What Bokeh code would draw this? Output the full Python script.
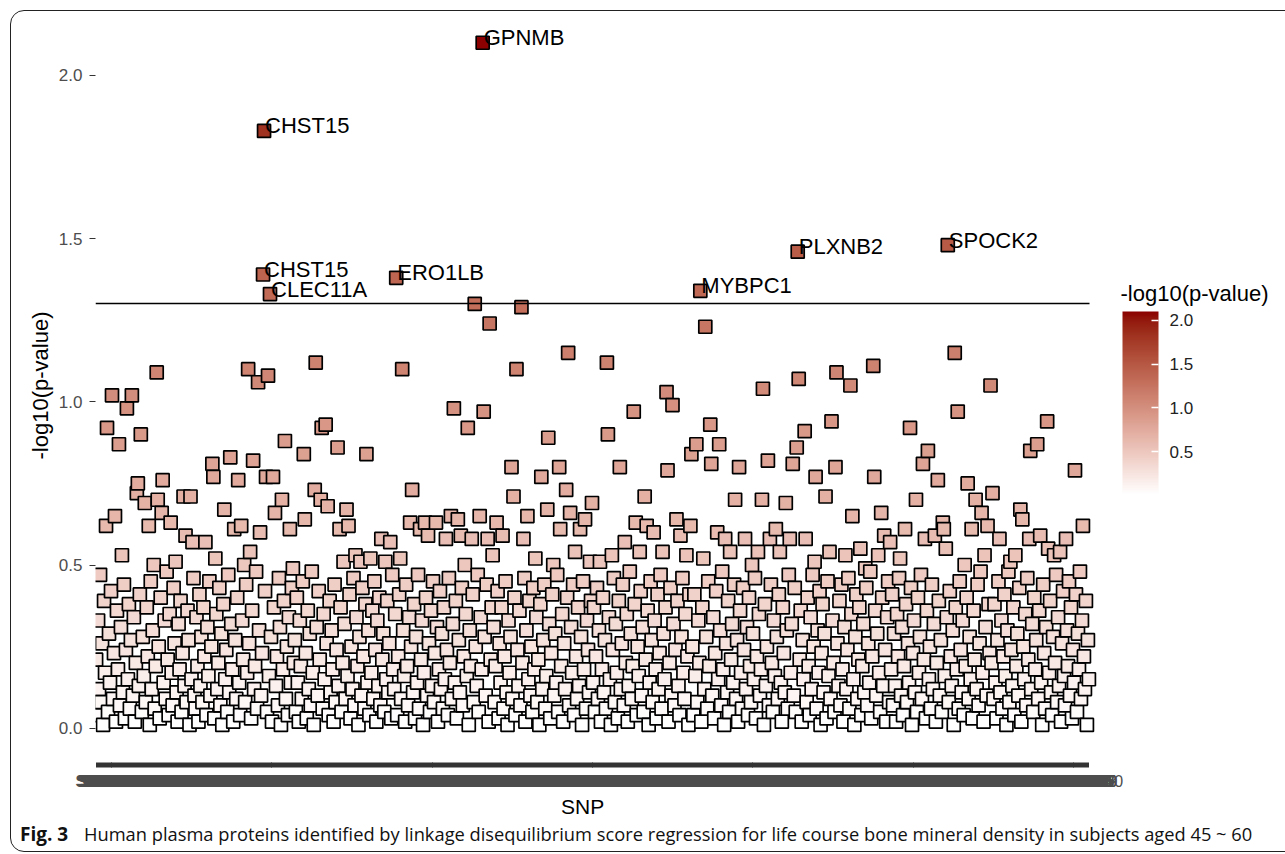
import math
from bokeh.plotting import figure
from bokeh.layouts import column
from bokeh.models import (ColumnDataSource, Range1d, LinearColorMapper, ColorBar, Div, Title,
                          FixedTicker, PrintfTickFormatter, Label)
from bokeh.transform import transform
from bokeh.core.properties import value
from bokeh.embed import file_html
from bokeh.resources import INLINE

# -log10(p-value) per SNP, read left to right (10 blocks of 100 SNPs)
seg_01 = [0.21, 0.04, 0.33, 0.12, 0.47, 0.08, 0.26, 0.01, 0.39, 0.17, 0.62, 0.92, 0.05, 0.29, 0.14, 0.42, 1.02, 0.09, 0.23, 0.65,
          0.02, 0.36, 0.18, 0.87, 0.07, 0.31, 0.53, 0.11, 0.44, 0.03, 0.24, 0.98, 0.15, 0.38, 0.06, 0.27, 1.02, 0.10, 0.34, 0.02,
          0.20, 0.72, 0.75, 0.13, 0.41, 0.90, 0.05, 0.28, 0.16, 0.69, 0.08, 0.37, 0.22, 0.62, 0.01, 0.45, 0.12, 0.30, 0.50, 0.06,
          0.19, 1.09, 0.70, 0.25, 0.03, 0.40, 0.66, 0.76, 0.14, 0.33, 0.09, 0.48, 0.21, 0.04, 0.35, 0.63, 0.17, 0.07, 0.43, 0.26,
          0.51, 0.11, 0.02, 0.32, 0.18, 0.39, 0.05, 0.23, 0.71, 0.13, 0.59, 0.08, 0.36, 0.27, 0.01, 0.71, 0.15, 0.57, 0.46, 0.10]
seg_02 = [0.06, 0.34, 0.19, 0.02, 0.41, 0.13, 0.28, 0.08, 0.37, 0.22, 0.57, 0.04, 0.31, 0.16, 0.45, 0.10, 0.25, 0.81, 0.77, 0.03,
          0.52, 0.35, 0.12, 0.20, 0.43, 0.07, 0.29, 0.01, 0.38, 0.67, 0.15, 0.24, 0.05, 0.47, 0.11, 0.83, 0.32, 0.18, 0.02, 0.61,
          0.27, 0.09, 0.40, 0.76, 0.14, 0.04, 0.62, 0.33, 0.21, 0.50, 0.08, 0.44, 0.17, 1.10, 0.26, 0.54, 0.03, 0.36, 0.82, 0.12,
          0.19, 0.48, 0.06, 1.06, 0.30, 0.60, 0.10, 0.23, 1.39, 1.83, 0.42, 0.77, 0.05, 1.08, 0.16, 1.33, 0.28, 0.02, 0.77, 0.37,
          0.66, 0.13, 0.22, 0.07, 0.46, 0.31, 0.01, 0.70, 0.18, 0.39, 0.88, 0.09, 0.25, 0.04, 0.34, 0.61, 0.14, 0.43, 0.49, 0.20]
seg_03 = [0.27, 0.05, 0.40, 0.14, 0.02, 0.33, 0.19, 0.09, 0.45, 0.84, 0.64, 0.23, 0.03, 0.36, 0.12, 0.29, 0.07, 0.48, 0.17, 0.01,
          0.73, 1.12, 0.31, 0.10, 0.42, 0.21, 0.70, 0.92, 0.06, 0.35, 0.15, 0.93, 0.26, 0.68, 0.04, 0.39, 0.11, 0.30, 0.18, 0.02,
          0.44, 0.08, 0.24, 0.86, 0.13, 0.61, 0.37, 0.05, 0.20, 0.51, 0.32, 0.09, 0.67, 0.16, 0.62, 0.41, 0.03, 0.25, 0.12, 0.46,
          0.07, 0.53, 0.34, 0.19, 0.01, 0.28, 0.51, 0.10, 0.43, 0.22, 0.06, 0.38, 0.84, 0.14, 0.30, 0.04, 0.52, 0.17, 0.36, 0.09,
          0.45, 0.24, 0.02, 0.33, 0.13, 0.40, 0.07, 0.58, 0.21, 0.29, 0.05, 0.51, 0.15, 0.39, 0.11, 0.26, 0.57, 0.03, 0.47, 0.18]
seg_04 = [0.12, 0.35, 1.38, 0.04, 0.22, 0.41, 0.52, 0.09, 1.10, 0.30, 0.16, 0.02, 0.44, 0.19, 0.07, 0.34, 0.63, 0.25, 0.73, 0.11,
          0.38, 0.03, 0.28, 0.14, 0.47, 0.06, 0.61, 0.21, 0.33, 0.01, 0.17, 0.63, 0.40, 0.10, 0.59, 0.26, 0.05, 0.36, 0.13, 0.45,
          0.08, 0.23, 0.63, 0.31, 0.02, 0.18, 0.42, 0.12, 0.29, 0.06, 0.37, 0.15, 0.58, 0.24, 0.04, 0.46, 0.20, 0.65, 0.09, 0.32,
          0.98, 0.14, 0.39, 0.03, 0.64, 0.27, 0.11, 0.59, 0.43, 0.07, 0.22, 0.50, 0.35, 0.16, 0.92, 0.01, 0.30, 0.19, 0.58, 0.41,
          0.08, 1.30, 0.25, 0.13, 0.47, 0.05, 0.65, 0.34, 0.18, 2.10, 0.97, 0.28, 0.10, 0.44, 0.58, 0.02, 1.24, 0.21, 0.37, 0.53]
seg_05 = [0.31, 0.08, 0.19, 0.63, 0.42, 0.03, 0.26, 0.14, 0.37, 0.59, 0.06, 0.22, 0.45, 0.11, 0.01, 0.33, 0.17, 0.28, 0.80, 0.09,
          0.71, 0.40, 0.04, 1.10, 0.24, 0.13, 0.36, 0.07, 1.29, 0.20, 0.58, 0.46, 0.02, 0.30, 0.65, 0.15, 0.39, 0.10, 0.25, 0.05,
          0.43, 0.18, 0.52, 0.34, 0.08, 0.21, 0.01, 0.38, 0.77, 0.12, 0.27, 0.44, 0.06, 0.16, 0.67, 0.89, 0.32, 0.03, 0.23, 0.41,
          0.50, 0.10, 0.29, 0.14, 0.47, 0.05, 0.80, 0.61, 0.19, 0.35, 0.02, 0.26, 0.12, 0.73, 0.40, 1.15, 0.07, 0.66, 0.31, 0.17,
          0.44, 0.04, 0.54, 0.22, 0.09, 0.37, 0.13, 0.61, 0.28, 0.01, 0.45, 0.18, 0.64, 0.06, 0.33, 0.24, 0.11, 0.51, 0.39, 0.69]
seg_06 = [0.14, 0.37, 0.05, 0.22, 0.43, 0.09, 0.30, 0.51, 0.02, 0.18, 0.40, 0.11, 0.27, 0.06, 1.12, 0.90, 0.34, 0.15, 0.01, 0.53,
          0.24, 0.46, 0.08, 0.32, 0.17, 0.03, 0.39, 0.80, 0.12, 0.26, 0.44, 0.07, 0.57, 0.20, 0.35, 0.02, 0.13, 0.48, 0.29, 0.09,
          0.19, 0.97, 0.38, 0.63, 0.04, 0.25, 0.16, 0.54, 0.42, 0.10, 0.31, 0.05, 0.71, 0.21, 0.62, 0.36, 0.01, 0.14, 0.45, 0.27,
          0.08, 0.60, 0.33, 0.18, 0.03, 0.41, 0.12, 0.23, 0.47, 0.06, 0.54, 0.29, 0.15, 0.37, 1.03, 0.79, 0.02, 0.20, 0.43, 0.10,
          0.99, 0.32, 0.07, 0.24, 0.64, 0.39, 0.13, 0.04, 0.59, 0.28, 0.46, 0.17, 0.09, 0.35, 0.53, 0.22, 0.01, 0.41, 0.62, 0.84]
seg_07 = [0.25, 0.04, 0.41, 0.16, 0.87, 0.08, 0.33, 0.20, 1.34, 0.02, 0.37, 0.52, 0.12, 1.23, 0.28, 0.06, 0.45, 0.19, 0.93, 0.81,
          0.10, 0.34, 0.03, 0.23, 0.42, 0.60, 0.15, 0.87, 0.30, 0.07, 0.48, 0.18, 0.01, 0.58, 0.26, 0.11, 0.39, 0.05, 0.54, 0.21,
          0.32, 0.14, 0.44, 0.70, 0.09, 0.27, 0.02, 0.80, 0.36, 0.17, 0.06, 0.43, 0.24, 0.58, 0.12, 0.31, 0.04, 0.40, 0.19, 0.08,
          0.50, 0.29, 0.15, 0.46, 0.03, 0.22, 0.54, 0.35, 0.10, 0.18, 0.70, 1.04, 0.01, 0.38, 0.13, 0.25, 0.82, 0.07, 0.58, 0.44,
          0.20, 0.05, 0.33, 0.16, 0.61, 0.28, 0.09, 0.41, 0.54, 0.14, 0.02, 0.37, 0.23, 0.11, 0.69, 0.30, 0.06, 0.47, 0.58, 0.17]
seg_08 = [0.32, 0.81, 0.10, 0.43, 0.05, 0.86, 1.46, 1.07, 0.21, 0.36, 0.02, 0.27, 0.15, 0.91, 0.58, 0.08, 0.40, 0.19, 0.04, 0.34,
          0.12, 0.47, 0.25, 0.51, 0.77, 0.06, 0.30, 0.17, 0.42, 0.01, 0.23, 0.38, 0.11, 0.29, 0.71, 0.03, 0.45, 0.16, 0.54, 0.09,
          0.94, 0.33, 0.20, 0.05, 0.80, 1.09, 0.26, 0.13, 0.39, 0.07, 0.44, 0.18, 0.02, 0.31, 0.53, 0.12, 0.24, 0.46, 0.06, 1.05,
          0.35, 0.65, 0.15, 0.01, 0.28, 0.41, 0.09, 0.21, 0.37, 0.55, 0.04, 0.19, 0.32, 0.11, 0.49, 0.43, 0.07, 0.26, 0.14, 0.48,
          0.03, 0.22, 1.11, 0.77, 0.36, 0.10, 0.29, 0.53, 0.17, 0.05, 0.66, 0.40, 0.13, 0.59, 0.24, 0.02, 0.34, 0.45, 0.08, 0.57]
seg_09 = [0.18, 0.41, 0.07, 0.29, 0.13, 0.02, 0.35, 0.22, 0.46, 0.52, 0.10, 0.31, 0.04, 0.19, 0.61, 0.38, 0.08, 0.26, 0.14, 0.92,
          0.43, 0.01, 0.23, 0.33, 0.11, 0.70, 0.05, 0.40, 0.17, 0.28, 0.47, 0.09, 0.81, 0.21, 0.58, 0.03, 0.36, 0.85, 0.15, 0.25,
          0.06, 0.44, 0.12, 0.32, 0.59, 0.02, 0.20, 0.76, 0.39, 0.10, 0.27, 0.05, 0.63, 0.61, 0.16, 0.55, 0.34, 1.48, 0.08, 0.42,
          0.22, 0.13, 0.30, 0.01, 1.15, 0.37, 0.18, 0.97, 0.06, 0.45, 0.24, 0.11, 0.33, 0.04, 0.50, 0.19, 0.40, 0.75, 0.09, 0.28,
          0.15, 0.61, 0.03, 0.36, 0.21, 0.70, 0.12, 0.44, 0.07, 0.26, 0.48, 0.66, 0.17, 0.02, 0.53, 0.31, 0.10, 0.62, 0.38, 0.23]
seg_10 = [1.05, 0.20, 0.72, 0.09, 0.38, 0.14, 0.03, 0.27, 0.45, 0.58, 0.11, 0.33, 0.06, 0.22, 0.41, 0.16, 0.01, 0.30, 0.48, 0.08,
          0.51, 0.24, 0.13, 0.37, 0.04, 0.53, 0.19, 0.29, 0.10, 0.43, 0.67, 0.02, 0.64, 0.25, 0.15, 0.35, 0.07, 0.46, 0.21, 0.58,
          0.85, 0.12, 0.32, 0.05, 0.40, 0.18, 0.27, 0.87, 0.09, 0.36, 0.59, 0.14, 0.01, 0.44, 0.23, 0.06, 0.31, 0.94, 0.55, 0.17,
          0.39, 0.11, 0.04, 0.28, 0.53, 0.20, 0.47, 0.08, 0.34, 0.13, 0.54, 0.02, 0.26, 0.42, 0.16, 0.07, 0.58, 0.30, 0.19, 0.45,
          0.10, 0.37, 0.03, 0.24, 0.14, 0.79, 0.41, 0.05, 0.29, 0.18, 0.48, 0.09, 0.33, 0.62, 0.22, 0.12, 0.39, 0.01, 0.27, 0.15]

neg_log10_p = seg_01 + seg_02 + seg_03 + seg_04 + seg_05 + seg_06 + seg_07 + seg_08 + seg_09 + seg_10
N = len(neg_log10_p)
snp_pos = list(range(1, N + 1))
snp_ids = [f"SNP{i}" for i in snp_pos]          # x tick labels (one per SNP, overlapping as in the original)
hit_genes = ["CHST15", "CHST15", "CLEC11A", "ERO1LB", "GPNMB", "MYBPC1", "PLXNB2", "SPOCK2"]
y_ticks = [0.0, 0.5, 1.0, 1.5, 2.0]
bar_ticks = [0.5, 1.0, 1.5, 2.0]
sig_level = -math.log10(0.05)
x_title = "SNP"
y_title = "-log10(p-value)"
legend_title = "-log10(p-value)"
caption_bold = "Fig. 3"
caption_text = ("Human plasma proteins identified by linkage disequilibrium score regression "
                "for life course bone mineral density in subjects aged 45 ~ 60")

# white -> darkred gradient interpolated in CIE Lab (as ggplot does)
def _hex_to_lab(h):
    rgb = [int(h[i:i + 2], 16) / 255 for i in (1, 3, 5)]
    r, g, b = [c / 12.92 if c <= 0.04045 else ((c + 0.055) / 1.055) ** 2.4 for c in rgb]
    X = (0.4124564 * r + 0.3575761 * g + 0.1804375 * b) / 0.95047
    Y = (0.2126729 * r + 0.7151522 * g + 0.0721750 * b)
    Z = (0.0193339 * r + 0.1191920 * g + 0.9503041 * b) / 1.08883
    f = lambda t: t ** (1 / 3) if t > (6 / 29) ** 3 else t / (3 * (6 / 29) ** 2) + 4 / 29
    return 116 * f(Y) - 16, 500 * (f(X) - f(Y)), 200 * (f(Y) - f(Z))

def _lab_to_hex(L, a, b):
    fy = (L + 16) / 116
    fx, fz = fy + a / 500, fy - b / 200
    finv = lambda t: t ** 3 if t > 6 / 29 else 3 * (6 / 29) ** 2 * (t - 4 / 29)
    X, Y, Z = 0.95047 * finv(fx), finv(fy), 1.08883 * finv(fz)
    r = 3.2404542 * X - 1.5371385 * Y - 0.4985314 * Z
    g = -0.9692660 * X + 1.8760108 * Y + 0.0415560 * Z
    bb = 0.0556434 * X - 0.2040259 * Y + 1.0572252 * Z
    out = []
    for c in (r, g, bb):
        c = 12.92 * c if c <= 0.0031308 else 1.055 * max(c, 0) ** (1 / 2.4) - 0.055
        out.append(max(0, min(255, round(c * 255))))
    return "#%02x%02x%02x" % tuple(out)

lo_lab, hi_lab = _hex_to_lab("#ffffff"), _hex_to_lab("#8b0000")
palette = [_lab_to_hex(*[lo_lab[k] + (hi_lab[k] - lo_lab[k]) * i / 255 for k in range(3)]) for i in range(256)]
mapper = LinearColorMapper(palette=palette, low=min(neg_log10_p), high=max(neg_log10_p))

src = ColumnDataSource(dict(pos=snp_pos, val=neg_log10_p))
hit_idx = [i for i, v in enumerate(neg_log10_p) if v > sig_level]
hit_src = ColumnDataSource(dict(pos=[snp_pos[i] for i in hit_idx],
                                val=[neg_log10_p[i] for i in hit_idx],
                                gene=hit_genes[:len(hit_idx)]))

FONT = "Liberation Sans"

# layout geometry (pixels)
W, H_PLOT, H_CAP = 1285, 824, 30
FRAME_L, FRAME_T, FRAME_B = 95, 8, 762
DATA_R = 1089                      # right edge of the data panel
x_lo, x_hi_panel = 0.4, N + 0.6    # discrete-axis expansion
x_per_px = (x_hi_panel - x_lo) / (DATA_R - FRAME_L)
x_hi = x_lo + (W - FRAME_L) * x_per_px   # frame extends under the legend
y_lo, y_hi = -0.105, 2.205
y_per_px = (y_hi - y_lo) / (FRAME_B - FRAME_T)

p = figure(width=W, height=H_PLOT, x_range=Range1d(x_lo, x_hi), y_range=Range1d(y_lo, y_hi),
           output_backend="svg", toolbar_location=None,
           min_border_left=FRAME_L, min_border_right=0, min_border_top=FRAME_T,
           min_border_bottom=H_PLOT - FRAME_B)
p.background_fill_color = "white"
p.border_fill_color = "white"
p.outline_line_color = None
p.xgrid.visible = False
p.ygrid.visible = False

p.scatter(x="pos", y="val", source=src, marker="square", size=13,
          fill_color=transform("val", mapper), line_color="black", line_width=1.7)

# significance line across the data panel
p.segment(x0=[x_lo], x1=[x_hi_panel], y0=[sig_level], y1=[sig_level], line_color="black", line_width=1.5)

p.text(x="pos", y="val", text="gene", source=hit_src, text_font=value(FONT), text_font_size="22px",
       text_align="left", text_baseline="middle", x_offset=1, y_offset=-5, text_color="black")

# y axis
p.yaxis.ticker = FixedTicker(ticks=y_ticks)
p.yaxis.formatter = PrintfTickFormatter(format="%.1f")
p.yaxis.axis_line_color = None
p.yaxis.minor_tick_line_color = None
p.yaxis.major_tick_line_color = "#333333"
p.yaxis.major_tick_out = 6
p.yaxis.major_tick_in = 0
p.yaxis.major_label_standoff = 7
p.yaxis.major_label_text_font = FONT
p.yaxis.major_label_text_font_size = "17px"
p.yaxis.major_label_text_color = "#4d4d4d"
p.yaxis.axis_label = y_title
p.yaxis.axis_label_text_font = FONT
p.yaxis.axis_label_text_font_size = "22px"
p.yaxis.axis_label_text_font_style = "normal"
p.yaxis.axis_label_text_color = "black"
p.yaxis.axis_label_standoff = 3

# x axis: one tick and one label per SNP, limited to the data panel
p.xaxis.bounds = (x_lo, x_hi_panel)
p.xaxis.ticker = FixedTicker(ticks=snp_pos)
p.xaxis.major_label_overrides = {pos: lab for pos, lab in zip(snp_pos, snp_ids)}
p.xaxis.axis_line_color = None
p.xaxis.minor_tick_line_color = None
p.xaxis.major_tick_line_color = "#333333"
p.xaxis.major_tick_out = 5
p.xaxis.major_tick_in = 0
p.xaxis.major_label_standoff = 5
p.xaxis.major_label_text_font = FONT
p.xaxis.major_label_text_font_size = "16px"
p.xaxis.major_label_text_color = "#4d4d4d"

# x-axis title centred under the data panel (not the whole frame)
X_TITLE_W = 43
p.add_layout(Title(text=x_title, align="left", offset=(FRAME_L + DATA_R) / 2 - 10 - X_TITLE_W / 2 - FRAME_L,
                   vertical_align="top", standoff=4, text_font=FONT, text_font_size="21px",
                   text_font_style="normal", text_color="black"), "below")

# colour bar legend
BAR_L, BAR_B = 1122, 494
cb = ColorBar(color_mapper=mapper, ticker=FixedTicker(ticks=bar_ticks),
              formatter=PrintfTickFormatter(format="%.1f"),
              width=36, height=183, padding=0, margin=0,
              location=(BAR_L - FRAME_L, FRAME_B - BAR_B),
              major_label_text_font=FONT, major_label_text_font_size="17px",
              major_label_text_color="#222222", label_standoff=11,
              major_tick_line_color="white", major_tick_line_width=1.5, major_tick_in=7, major_tick_out=0,
              minor_tick_line_color=None, bar_line_color=None, border_line_color=None,
              background_fill_alpha=0)
p.add_layout(cb, "center")
p.add_layout(Label(x=x_lo + (1120 - FRAME_L) * x_per_px, y=y_hi - (293 - FRAME_T) * y_per_px,
                   text=legend_title, text_font=FONT, text_font_size="22px",
                   text_baseline="middle", text_align="left", text_color="black"))

caption = Div(text=(f'<div style="font-family:\'Open Sans\';font-size:18.3px;line-height:20px;'
                    f'white-space:nowrap;padding-left:20px;color:#111">'
                    f'<span style="display:inline-block;width:64px;font-weight:bold;font-size:19px">{caption_bold}</span>'
                    f'{caption_text}</div>'),
              width=W, height=H_CAP, margin=(0, 0, 0, 0))

frame_css = (":host { position: relative; overflow: hidden; }"
             ":host::after { content: ''; position: absolute; left: 10px; top: 10px; width: 1400px; height: 842px;"
             " border: 1.3px solid #222; border-radius: 14px; box-sizing: border-box; pointer-events: none; }")

page = column(p, caption, stylesheets=[frame_css], margin=(0, 0, 0, 0), spacing=0)

open("out.html", "w").write(file_html(page, INLINE))
